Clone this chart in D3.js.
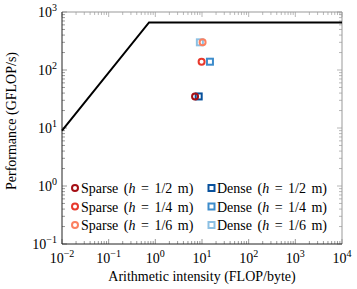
<!DOCTYPE html>
<html>
<head>
<meta charset="utf-8">
<script src="https://cdn.jsdelivr.net/npm/d3@7"></script>
<style>
  body { margin: 0; background: #fff; }
  text { font-family: "Liberation Serif", "DejaVu Serif", serif; }
</style>
</head>
<body>
<div id="chart"></div>
<script>
// roofline
const peak = 660;       // GFLOP/s
const bandwidth = 900;  // GB/s
const xDomain = [1e-2, 1e4];
const yDomain = [1e-1, 1e3];

// measured points
const sparseLabels = ["Sparse (h = 1/2 m)", "Sparse (h = 1/4 m)", "Sparse (h = 1/6 m)"];
const sparseAI = [7.1, 9.8, 10.3];
const sparsePerf = [35, 139, 300];
const sparseColors = ["#a50f15", "#e8382c", "#fb8060"];

const denseLabels = ["Dense (h = 1/2 m)", "Dense (h = 1/4 m)", "Dense (h = 1/6 m)"];
const denseAI = [8.5, 14.8, 9.0];
const densePerf = [35, 139, 300];
const denseColors = ["#08519c", "#3d8ccb", "#8cc0e3"];

const xTicks = [1e-2, 1e-1, 1e0, 1e1, 1e2, 1e3, 1e4];
const yTicks = [1e-1, 1e0, 1e1, 1e2, 1e3];

const width = 357, height = 289;
const margin = {top: 12, right: 15, bottom: 45, left: 62};
const iw = width - margin.left - margin.right;
const ih = height - margin.top - margin.bottom;
const fs = 14;

const svg = d3.select("#chart").append("svg")
  .attr("width", width).attr("height", height);
const g = svg.append("g").attr("transform", `translate(${margin.left},${margin.top})`);

const x = d3.scaleLog().domain(xDomain).range([0, iw]);
const y = d3.scaleLog().domain(yDomain).range([ih, 0]);

// minor ticks
function minors(domain) {
  const out = [];
  for (let e = Math.log10(domain[0]); e < Math.log10(domain[1]); e++)
    for (let k = 2; k < 10; k++) out.push(k * Math.pow(10, e));
  return out;
}
const xMinor = minors(xDomain), yMinor = minors(yDomain);

const tickG = g.append("g");
// bottom / top
tickG.selectAll(".xb").data(xMinor).join("line")
  .attr("x1", d => x(d)).attr("x2", d => x(d)).attr("y1", ih).attr("y2", ih - 3)
  .attr("stroke", "#555").attr("stroke-width", 0.6);
tickG.selectAll(".xbM").data(xTicks).join("line")
  .attr("x1", d => x(d)).attr("x2", d => x(d)).attr("y1", ih).attr("y2", ih - 5)
  .attr("stroke", "#555").attr("stroke-width", 0.6);
tickG.selectAll(".xt").data(xMinor).join("line")
  .attr("x1", d => x(d)).attr("x2", d => x(d)).attr("y1", 0).attr("y2", 3)
  .attr("stroke", "#888").attr("stroke-width", 0.6);
tickG.selectAll(".xtM").data(xTicks).join("line")
  .attr("x1", d => x(d)).attr("x2", d => x(d)).attr("y1", 0).attr("y2", 5)
  .attr("stroke", "#888").attr("stroke-width", 0.6);
// left / right
tickG.selectAll(".yl").data(yMinor).join("line")
  .attr("y1", d => y(d)).attr("y2", d => y(d)).attr("x1", 0).attr("x2", 3)
  .attr("stroke", "#555").attr("stroke-width", 0.6);
tickG.selectAll(".ylM").data(yTicks).join("line")
  .attr("y1", d => y(d)).attr("y2", d => y(d)).attr("x1", 0).attr("x2", 5)
  .attr("stroke", "#555").attr("stroke-width", 0.6);
tickG.selectAll(".yr").data(yMinor).join("line")
  .attr("y1", d => y(d)).attr("y2", d => y(d)).attr("x1", iw).attr("x2", iw - 3)
  .attr("stroke", "#888").attr("stroke-width", 0.6);
tickG.selectAll(".yrM").data(yTicks).join("line")
  .attr("y1", d => y(d)).attr("y2", d => y(d)).attr("x1", iw).attr("x2", iw - 5)
  .attr("stroke", "#888").attr("stroke-width", 0.6);

// frame
g.append("line").attr("x1", 0).attr("x2", iw).attr("y1", 0).attr("y2", 0).attr("stroke", "#999").attr("stroke-width", 1);
g.append("line").attr("x1", iw).attr("x2", iw).attr("y1", 0).attr("y2", ih).attr("stroke", "#999").attr("stroke-width", 1);
g.append("line").attr("x1", 0).attr("x2", iw).attr("y1", ih).attr("y2", ih).attr("stroke", "#222").attr("stroke-width", 1);
g.append("line").attr("x1", 0).attr("x2", 0).attr("y1", 0).attr("y2", ih).attr("stroke", "#222").attr("stroke-width", 1);

// tick labels
function pow10Label(sel, d) {
  const e = Math.round(Math.log10(d));
  sel.append("tspan").text("10");
  sel.append("tspan").attr("dy", -6).attr("font-size", 10).text(e < 0 ? "\u2212" + (-e) : e);
}
g.selectAll(".xlab").data(xTicks).join("text")
  .attr("x", d => x(d)).attr("y", ih + 19)
  .attr("text-anchor", "middle").attr("font-size", fs)
  .each(function(d) { pow10Label(d3.select(this), d); });
g.selectAll(".ylab").data(yTicks).join("text")
  .attr("x", -5).attr("y", d => y(d) + 5)
  .attr("text-anchor", "end").attr("font-size", fs)
  .each(function(d) { pow10Label(d3.select(this), d); });

// axis titles
svg.append("text").attr("x", margin.left + iw / 2).attr("y", 281)
  .attr("text-anchor", "middle").attr("font-size", fs)
  .text("Arithmetic intensity (FLOP/byte)");
svg.append("text").attr("transform", `translate(16,121) rotate(-90)`)
  .attr("text-anchor", "middle").attr("font-size", fs)
  .text("Performance (GFLOP/s)");

// roofline
const knee = peak / bandwidth;
const roof = [[xDomain[0], bandwidth * xDomain[0]], [knee, peak], [xDomain[1], peak]];
g.append("path").datum(roof)
  .attr("d", d3.line().x(d => x(d[0])).y(d => y(d[1])))
  .attr("fill", "none").attr("stroke", "#000").attr("stroke-width", 2);

// points
const dense = denseAI.map((v, i) => ({ai: v, p: densePerf[i], c: denseColors[i]}));
const sparse = sparseAI.map((v, i) => ({ai: v, p: sparsePerf[i], c: sparseColors[i]}));
g.selectAll(".dense").data(dense).join("rect")
  .attr("x", d => x(d.ai) - 3).attr("y", d => y(d.p) - 3)
  .attr("width", 6).attr("height", 6)
  .attr("fill", "none").attr("stroke", d => d.c).attr("stroke-width", 2);
g.selectAll(".sparse").data(sparse).join("circle")
  .attr("cx", d => x(d.ai)).attr("cy", d => y(d.p)).attr("r", 3)
  .attr("fill", "none").attr("stroke", d => d.c).attr("stroke-width", 2);

// legend
function legendLabel(sel, label) {
  const m = label.match(/^(\w+) \(h = (.*)\)$/);
  sel.attr("word-spacing", 2);
  sel.append("tspan").text(m[1] + " (");
  sel.append("tspan").attr("font-style", "italic").text("h");
  sel.append("tspan").text(" = " + m[2] + ")");
}
const rowY = [188, 206.5, 225];
const legS = svg.append("g");
sparseLabels.forEach((lab, i) => {
  legS.append("circle").attr("cx", 75).attr("cy", rowY[i]).attr("r", 3)
    .attr("fill", "none").attr("stroke", sparseColors[i]).attr("stroke-width", 2);
  legendLabel(legS.append("text").attr("x", 81).attr("y", rowY[i] + 5).attr("font-size", fs), lab);
});
denseLabels.forEach((lab, i) => {
  legS.append("rect").attr("x", 208.5).attr("y", rowY[i] - 3).attr("width", 6).attr("height", 6)
    .attr("fill", "none").attr("stroke", denseColors[i]).attr("stroke-width", 2);
  legendLabel(legS.append("text").attr("x", 217).attr("y", rowY[i] + 5).attr("font-size", fs), lab);
});
</script>
</body>
</html>
